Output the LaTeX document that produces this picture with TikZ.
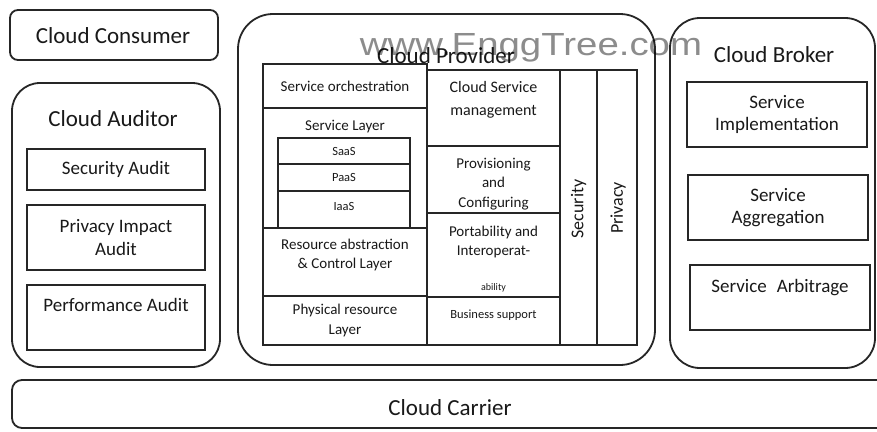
\documentclass[tikz,border=0pt]{standalone}
\usepackage{fontspec}
\setmainfont{Carlito}
\newfontfamily\markfont{Liberation Sans}
\begin{document}
\begin{tikzpicture}[x=1pt,y=-1pt,
  line width=1.5pt,
  ink/.style={draw=black!85},
  panel/.style={ink, rounded corners=#1, line width=1.8pt},
  cell/.style={ink, rectangle, inner sep=0pt, align=center, text=black!90},
  ttl/.style={font=\fontsize{23}{25}\selectfont, text=black!90},
  big/.style={font=\fontsize{19}{22.5}\selectfont, text=black!90},
  mid/.style={font=\fontsize{16}{23}\selectfont, text=black!90},
  vert/.style={font=\fontsize{18}{20}\selectfont, text=black!90, rotate=90},
  small/.style={font=\fontsize{15}{19.5}\selectfont, text=black!90},
  tiny/.style={font=\fontsize{12.5}{14}\selectfont, text=black!90},
]
\useasboundingbox (0,0) rectangle (877,431);
\clip (0,0) rectangle (877,431);
\fill[white] (0,0) rectangle (877,431);

% ---------- Cloud Consumer ----------
\node[panel=8pt, cell, minimum width=208pt, minimum height=50pt] (consumer) at (114,35) {};
\node[ttl, anchor=base] (consumerT) at (113,43) {Cloud Consumer};

% ---------- Cloud Auditor ----------
\node[panel=28pt, cell, minimum width=208pt, minimum height=284pt] (auditor) at (116,225) {};
\node[ttl, anchor=base] (auditorT) at (113,126) {Cloud Auditor};
\node[cell, big, minimum width=178pt, minimum height=41pt] (secaudit) at (116,169.5) {Security Audit};
\node[cell, big, minimum width=178pt, minimum height=65pt] (privaudit) at (116,237.5) {Privacy Impact\\Audit};
\node[cell, minimum width=178pt, minimum height=65pt] (perfaudit) at (116,317.5) {};
\node[big] (perfauditT) at (116,305) {Performance Audit};

% ---------- Cloud Provider ----------
\node[panel=35pt, cell, minimum width=417pt, minimum height=351pt] (provider) at (446.5,189.5) {};
\node[ttl, anchor=base] (providerT) at (446,63) {Cloud Provider};

% left column
\node[cell, small, minimum width=164pt, minimum height=44pt] (orch) at (345,86) {Service orchestration};
\node[cell, minimum width=164pt, minimum height=120pt] (svclayer) at (345,168) {};
\node[small] (svclayerT) at (345,127) {Service Layer};
\node[cell, tiny, minimum width=132pt, minimum height=26pt] (saas) at (344,151) {SaaS};
\node[cell, tiny, minimum width=132pt, minimum height=27pt] (paas) at (344,177.5) {PaaS};
\node[cell, minimum width=132pt, minimum height=37pt] (iaas) at (344,209.5) {};
\node[tiny] (iaasT) at (344,206) {IaaS};
\node[cell, minimum width=164pt, minimum height=68pt] (resabs) at (345,262) {};
\node[small, align=center] (resabsT) at (345,255) {Resource abstraction\\\& Control Layer};
\node[cell, small, minimum width=164pt, minimum height=49pt] (phys) at (345,320.5) {Physical resource\\Layer};

% middle column
\node[cell, minimum width=133pt, minimum height=76pt] (csm) at (493.5,108) {};
\node[mid, align=center] (csmT) at (493.5,100) {Cloud Service\\management};
\node[cell, minimum width=133pt, minimum height=67pt] (prov) at (493.5,179.5) {};
\node[small, align=center] (provT) at (493.5,184) {Provisioning\\and\\Configuring};
\node[cell, minimum width=133pt, minimum height=84pt] (port) at (493.5,255) {};
\node[small, align=center] (portT) at (493.5,242) {Portability and\\Interoperat-};
\node[tiny, font=\fontsize{10}{11}\selectfont] (portT2) at (493.5,288) {ability};
\node[cell, minimum width=133pt, minimum height=48pt] (bus) at (493.5,321) {};
\node[tiny] (busT) at (493.5,315) {Business support};

% security / privacy columns
\node[cell, minimum width=37pt, minimum height=275pt] (sec) at (578.5,207.5) {};
\node[vert] (secT) at (578.5,209) {Security};
\node[cell, minimum width=40pt, minimum height=275pt] (priv) at (617,207.5) {};
\node[vert] (privT) at (618,208) {Privacy};

% ---------- Cloud Broker ----------
\node[panel=30pt, cell, minimum width=205pt, minimum height=350pt] (broker) at (772.5,193) {};
\node[ttl, anchor=base] (brokerT) at (774,62) {Cloud Broker};
\node[cell, big, minimum width=180pt, minimum height=65pt] (impl) at (777,114.5) {Service\\Implementation};
\node[cell, big, minimum width=180pt, minimum height=65pt] (aggr) at (778,207.5) {Service\\Aggregation};
\node[cell, minimum width=180pt, minimum height=65pt] (arb) at (780,297.5) {};
\node[big] (arbT) at (780,288) {Service\hspace{0.3em} Arbitrage};

% ---------- Cloud Carrier ----------
\node[panel=10pt, cell, minimum width=900pt, minimum height=48pt] (carrier) at (462,404) {};
\node[ttl] (carrierT) at (450,408) {Cloud Carrier};

% ---------- site mark (translucent, over the top) ----------
\node[text=black, text opacity=0.45, font=\markfont\fontsize{32}{34}\selectfont, xscale=1.2, anchor=base] (mark) at (531,55) {www.EnggTree.com};
\end{tikzpicture}
\end{document}
